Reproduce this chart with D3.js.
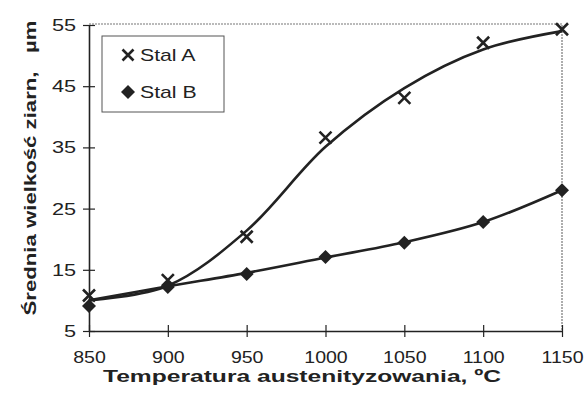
<!DOCTYPE html>
<html><head><meta charset="utf-8">
<script src="https://cdn.jsdelivr.net/npm/d3@7"></script>
<style>body{margin:0;background:#fff}svg{display:block}</style>
</head><body>
<svg id="c" width="587" height="396"></svg>
<script>
const temps = [850, 900, 950, 1000, 1050, 1100, 1150];
const stalA = [10.8, 13.3, 20.4, 36.6, 43.1, 52.1, 54.3];
const stalB = [9.1, 12.2, 14.3, 17.1, 19.4, 22.8, 28.0];
const trendA = [10.0, 12.4, 21.4, 35.1, 44.7, 51.0, 54.0];
const trendB = [10.0, 12.3, 14.5, 17.0, 19.5, 22.8, 28.0];
const yTicks = [5, 15, 25, 35, 45, 55];
const xTicks = [850, 900, 950, 1000, 1050, 1100, 1150];
const seriesNames = ["Stal A", "Stal B"];

const svg = d3.select("#c");
const ink = "#222";
const FONT = "'Liberation Sans', Arial, sans-serif";
const x = d3.scaleLinear().domain([850, 1150]).range([89, 562]);
const y = d3.scaleLinear().domain([5, 55]).range([331, 25]);

// frame (top/right)
svg.append("path").attr("d", `M${x(850)},${y(55)-1}H${x(1150)}V${y(5)}`)
  .attr("fill","none").attr("stroke","#777").attr("stroke-width",1.2).attr("stroke-dasharray","2,1");

// axes
const xAxis = d3.axisBottom(x).tickValues(xTicks).tickSize(6).tickSizeOuter(0).tickPadding(14).tickFormat(d3.format("d"));
const gx = svg.append("g").attr("transform", `translate(0,${y(5)})`).call(xAxis);
gx.selectAll(".tick line").attr("y1",-6).attr("y2",6);
const yAxis = d3.axisLeft(y).tickValues(yTicks).tickSize(6).tickSizeOuter(0).tickPadding(5);
const gy = svg.append("g").attr("transform", `translate(${x(850)},0)`).call(yAxis);
gy.selectAll(".tick line").attr("x1",-6).attr("x2",6);
[gx, gy].forEach(g => {
  g.select(".domain").attr("stroke", ink).attr("stroke-width", 1.6);
  g.selectAll(".tick line").attr("stroke", ink).attr("stroke-width", 1.2);
  g.selectAll("text").attr("fill", ink).attr("font-family", FONT).attr("font-size", 17);
});
gx.selectAll("text").attr("transform", "scale(1.15,1)");
gy.selectAll("text").attr("transform", "scale(1.28,1)").attr("x", -10);

// titles
svg.append("text").attr("x", 302).attr("y", 382).attr("text-anchor","middle")
  .attr("font-family", FONT).attr("font-weight","bold").attr("font-size",17)
  .attr("fill", ink).attr("textLength", 398).attr("lengthAdjust","spacingAndGlyphs")
  .text("Temperatura austenityzowania, ºC");
svg.append("text").attr("transform","translate(36,168) rotate(-90)").attr("text-anchor","middle")
  .attr("font-family", FONT).attr("font-weight","bold").attr("font-size",17)
  .attr("fill", ink).attr("xml:space","preserve")
  .attr("textLength", 295).attr("lengthAdjust","spacingAndGlyphs")
  .text("Średnia wielkość ziarn,   µm");

// curves
const line = d3.line().x((d,i)=>x(temps[i])).y(d=>y(d)).curve(d3.curveCatmullRom.alpha(0.5));
[trendA, trendB].forEach(t => {
  svg.append("path").attr("d", line(t)).attr("fill","none").attr("stroke", ink).attr("stroke-width", 2.6);
});

// markers
function cross(g, cx, cy, s) {
  g.append("path").attr("d", `M${cx-s},${cy-s}L${cx+s},${cy+s}M${cx-s},${cy+s}L${cx+s},${cy-s}`)
    .attr("stroke", ink).attr("stroke-width", 2.6).attr("fill","none");
}
function diamond(g, cx, cy, s) {
  g.append("path").attr("d", `M${cx},${cy-s}L${cx+s},${cy}L${cx},${cy+s}L${cx-s},${cy}Z`).attr("fill", ink);
}
const gm = svg.append("g");
stalB.forEach((v,i) => diamond(gm, x(temps[i]), y(v), 7));
stalA.forEach((v,i) => cross(gm, x(temps[i]), y(v), 6));

// legend
const SX = 1.25;
const lg = svg.append("g");
lg.append("rect").attr("x",102).attr("y",36).attr("width",122).attr("height",76)
  .attr("fill","#fff").attr("stroke","#555").attr("stroke-width",1);
cross(lg, 128, 55, 5.5);
diamond(lg, 128, 92, 7);
seriesNames.forEach((n,i) => {
  lg.append("text").attr("x",140/SX).attr("y", i===0 ? 61 : 98).attr("transform", `scale(${SX},1)`)
    .attr("font-family", FONT).attr("font-size",17).attr("fill", ink).text(n);
});
</script>
</body></html>
